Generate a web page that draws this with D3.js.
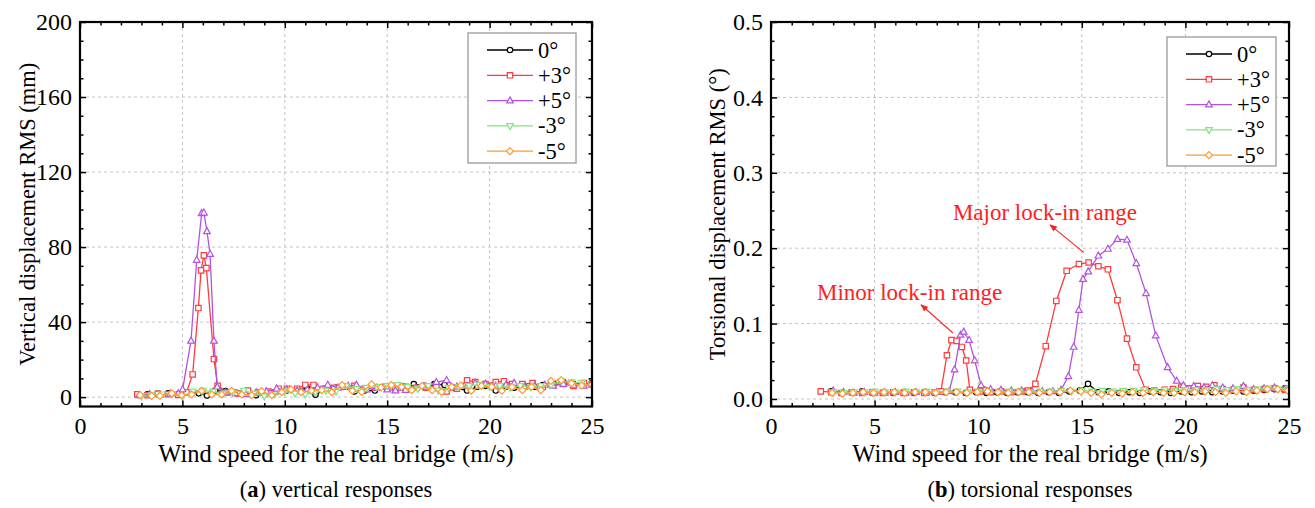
<!DOCTYPE html>
<html>
<head>
<meta charset="utf-8">
<script src="https://cdn.jsdelivr.net/npm/d3@7"></script>
<style>
  body { margin: 0; background: #ffffff; }
  svg { display: block; }
  svg text { font-family: "Liberation Serif", "Times New Roman", Times, serif; }
</style>
</head>
<body>
<svg id="chart" width="1315" height="508"></svg>
<script>
// ---- Series labels, colours ----
const seriesNames = ["0°", "+3°", "+5°", "-3°", "-5°"];
const seriesColors = ["#000000", "#ff3b3b", "#b352e0", "#84e384", "#ff9a33"];

// ---- (a) Vertical displacement RMS (mm) vs wind speed (m/s) ----
const vWind0 = [2.8, 3.3, 3.8, 4.3, 4.8, 5.3, 5.8, 6.2, 6.6, 7.1, 7.6, 8.1, 8.6, 9.1, 9.6, 10.1, 10.6, 11.1, 11.5, 12.0, 12.5, 13.0, 13.4, 13.9, 14.4, 14.9, 15.4, 15.8, 16.3, 16.8, 17.3, 17.8, 18.3, 18.9, 19.4, 19.8, 20.3, 20.8, 21.2, 21.7, 22.2, 22.6, 23.1, 23.6, 24.1, 24.6, 25.0];
const vRms0 = [1.2, 1.5, 1.8, 2.0, 1.5, 2.5, 2.0, 0.8, 3.5, 3.2, 2.5, 2.0, 1.0, 2.0, 3.0, 3.5, 4.0, 4.5, 1.2, 4.5, 5.0, 5.5, 3.0, 3.5, 3.5, 5.5, 5.0, 5.5, 7.0, 6.0, 7.0, 6.5, 5.0, 3.5, 5.5, 6.0, 3.5, 5.5, 5.0, 6.0, 5.5, 6.5, 7.5, 8.0, 7.0, 7.0, 7.5];

const vWindP3 = [2.8, 3.3, 3.8, 4.3, 4.8, 5.2, 5.5, 5.78, 5.91, 6.05, 6.17, 6.54, 6.72, 7.2, 7.7, 8.2, 8.7, 9.2, 9.7, 10.1, 10.6, 11.0, 11.4, 11.9, 12.4, 12.9, 13.4, 13.9, 14.4, 14.9, 15.4, 15.9, 16.4, 16.9, 17.4, 17.9, 18.4, 18.9, 19.3, 19.8, 20.3, 20.7, 21.1, 21.6, 22.1, 22.6, 23.1, 23.6, 24.1, 24.6, 25.0];
const vRmsP3 = [1.5, 1.0, 1.8, 1.5, 1.2, 2.5, 12.1, 47.5, 67.6, 75.6, 68.8, 20.3, 6.0, 2.5, 2.0, 3.5, 2.5, 3.0, 4.5, 4.5, 4.5, 6.5, 6.5, 4.5, 5.0, 5.5, 6.0, 4.5, 5.0, 5.5, 4.5, 5.5, 5.0, 5.0, 6.0, 3.0, 4.5, 9.0, 8.0, 7.0, 8.0, 8.5, 7.0, 7.0, 7.5, 5.5, 6.5, 7.0, 6.0, 7.5, 7.0];

const vWindP5 = [2.9, 3.4, 3.9, 4.4, 4.8, 5.01, 5.42, 5.70, 5.94, 6.05, 6.20, 6.35, 6.54, 6.70, 7.1, 7.6, 8.1, 8.6, 9.1, 9.6, 10.1, 10.6, 11.1, 11.6, 12.1, 12.6, 13.1, 13.5, 14.0, 14.5, 15.0, 15.4, 15.9, 16.4, 16.9, 17.4, 17.9, 18.4, 18.9, 19.3, 19.8, 20.3, 20.8, 21.2, 21.7, 22.2, 22.7, 23.1, 23.6, 24.1, 24.6, 25.0];
const vRmsP5 = [1.0, 1.5, 1.2, 1.8, 2.0, 4.1, 30.0, 73.1, 98.0, 98.3, 88.4, 76.3, 30.0, 5.5, 2.5, 2.0, 1.5, 2.5, 3.0, 4.5, 4.0, 3.5, 4.0, 5.0, 6.5, 5.0, 6.0, 6.5, 4.0, 5.0, 4.0, 3.5, 3.8, 5.0, 5.5, 8.0, 9.0, 5.5, 6.0, 7.5, 7.0, 6.0, 6.5, 7.5, 5.5, 6.0, 6.5, 6.0, 7.0, 6.5, 6.0, 6.5];

const vWindM3 = [3.0, 3.5, 4.0, 4.5, 5.0, 5.5, 6.0, 6.5, 7.0, 7.5, 8.0, 8.5, 9.0, 9.5, 10.0, 10.5, 11.0, 11.5, 12.0, 12.5, 13.0, 13.5, 14.0, 14.5, 15.0, 15.5, 16.0, 16.5, 17.0, 17.5, 18.0, 18.5, 19.0, 19.5, 20.0, 20.5, 21.0, 21.5, 22.0, 22.5, 23.0, 23.5, 24.0, 24.5, 25.0];
const vRmsM3 = [0.5, 1.0, 1.5, 1.5, 0.3, 3.0, 3.5, 3.0, 2.0, 2.5, 3.5, 2.0, 0.5, 1.5, 3.0, 2.0, 1.5, 2.5, 3.5, 3.0, 6.0, 4.5, 5.0, 5.5, 6.0, 6.5, 5.5, 4.5, 6.0, 3.5, 5.0, 5.5, 6.0, 6.5, 5.5, 6.0, 5.0, 6.0, 5.5, 6.0, 6.5, 8.5, 8.0, 7.5, 6.0];

const vWindM5 = [2.93, 3.5, 3.9, 4.48, 4.96, 5.45, 5.94, 6.43, 6.92, 7.4, 7.9, 8.38, 8.87, 9.36, 9.85, 10.3, 10.8, 11.3, 11.8, 12.3, 12.8, 13.3, 13.75, 14.24, 14.7, 15.2, 15.7, 16.2, 16.7, 17.2, 17.66, 18.15, 18.6, 19.1, 19.6, 20.1, 20.6, 21.1, 21.6, 22.05, 22.5, 23.0, 23.5, 24.0, 24.5, 25.0];
const vRmsM5 = [1.07, 0.7, 0.7, 2.0, 1.0, 1.4, 3.4, 1.4, 1.4, 3.4, 1.4, 1.0, 3.2, 1.0, 2.6, 4.1, 2.6, 3.4, 3.7, 2.6, 6.4, 3.4, 2.8, 6.8, 5.2, 6.4, 5.5, 3.7, 6.0, 3.7, 2.8, 5.5, 6.2, 3.4, 6.0, 5.5, 3.4, 5.5, 3.7, 5.5, 3.7, 8.7, 9.1, 7.3, 6.2, 6.8];

// ---- (b) Torsional displacement RMS (°) vs wind speed (m/s) ----
const tWind0 = [2.9, 3.4, 3.9, 4.4, 4.9, 5.4, 5.9, 6.4, 6.9, 7.4, 7.9, 8.4, 8.9, 9.4, 9.9, 10.4, 10.9, 11.4, 11.9, 12.4, 12.9, 13.4, 13.9, 14.4, 14.9, 15.3, 15.8, 16.3, 16.8, 17.3, 17.8, 18.3, 18.8, 19.3, 19.8, 20.3, 20.8, 21.3, 21.8, 22.3, 22.8, 23.3, 23.8, 24.3, 24.8];
const tRms0 = [0.010, 0.008, 0.009, 0.010, 0.008, 0.009, 0.008, 0.009, 0.008, 0.009, 0.008, 0.009, 0.009, 0.008, 0.009, 0.008, 0.009, 0.008, 0.009, 0.009, 0.008, 0.009, 0.008, 0.010, 0.011, 0.020, 0.009, 0.010, 0.008, 0.009, 0.008, 0.010, 0.009, 0.008, 0.010, 0.009, 0.010, 0.009, 0.010, 0.011, 0.010, 0.011, 0.012, 0.013, 0.014];

const tWindP3 = [2.4, 2.9, 3.4, 3.9, 4.4, 4.9, 5.4, 5.9, 6.4, 6.9, 7.4, 7.9, 8.2, 8.49, 8.71, 8.96, 9.21, 9.42, 9.6, 10.1, 10.6, 11.1, 11.6, 12.1, 12.4, 12.76, 13.26, 13.77, 14.27, 14.86, 15.33, 15.8, 16.26, 16.72, 17.18, 17.63, 18.08, 18.5, 19.0, 19.4, 19.8, 20.2, 20.6, 21.0, 21.4, 21.8, 22.3, 22.8, 23.3, 23.8, 24.3, 24.8];
const tRmsP3 = [0.010, 0.009, 0.008, 0.009, 0.008, 0.009, 0.008, 0.009, 0.008, 0.009, 0.008, 0.009, 0.010, 0.058, 0.078, 0.077, 0.069, 0.051, 0.012, 0.010, 0.009, 0.010, 0.009, 0.010, 0.011, 0.020, 0.070, 0.130, 0.170, 0.179, 0.181, 0.176, 0.172, 0.131, 0.080, 0.042, 0.012, 0.011, 0.012, 0.013, 0.015, 0.014, 0.017, 0.016, 0.018, 0.013, 0.012, 0.015, 0.012, 0.013, 0.014, 0.012];

const tWindP5 = [3.0, 3.5, 4.0, 4.5, 5.0, 5.5, 6.0, 6.5, 7.0, 7.5, 8.0, 8.6, 8.86, 9.15, 9.30, 9.56, 9.83, 10.14, 10.6, 11.1, 11.6, 12.1, 12.6, 13.1, 13.6, 14.0, 14.35, 14.61, 14.86, 15.06, 15.31, 15.8, 16.26, 16.72, 17.18, 17.63, 18.1, 18.57, 19.14, 19.58, 19.9, 20.4, 20.9, 21.3, 21.8, 22.3, 22.8, 23.3, 23.8, 24.3, 24.8];
const tRmsP5 = [0.011, 0.009, 0.008, 0.009, 0.008, 0.008, 0.009, 0.008, 0.009, 0.008, 0.009, 0.010, 0.039, 0.085, 0.089, 0.078, 0.051, 0.018, 0.013, 0.012, 0.011, 0.011, 0.010, 0.010, 0.010, 0.012, 0.030, 0.069, 0.118, 0.159, 0.169, 0.190, 0.199, 0.212, 0.211, 0.180, 0.140, 0.084, 0.042, 0.024, 0.018, 0.017, 0.015, 0.018, 0.015, 0.014, 0.017, 0.013, 0.014, 0.015, 0.013];

const tWindM3 = [3.0, 3.5, 4.0, 4.5, 5.0, 5.5, 6.0, 6.5, 7.0, 7.5, 8.0, 8.5, 9.0, 9.5, 10.0, 10.5, 11.0, 11.5, 12.0, 12.5, 13.0, 13.5, 14.0, 14.5, 15.0, 15.5, 16.0, 16.5, 17.0, 17.5, 18.0, 18.5, 19.0, 19.5, 20.0, 20.5, 21.0, 21.5, 22.0, 22.5, 23.0, 23.5, 24.0, 24.5, 25.0];
const tRmsM3 = [0.009, 0.008, 0.009, 0.009, 0.010, 0.009, 0.009, 0.010, 0.009, 0.010, 0.009, 0.010, 0.010, 0.009, 0.010, 0.010, 0.009, 0.010, 0.010, 0.009, 0.010, 0.010, 0.011, 0.010, 0.011, 0.010, 0.011, 0.010, 0.011, 0.011, 0.012, 0.011, 0.012, 0.011, 0.012, 0.012, 0.012, 0.013, 0.012, 0.013, 0.012, 0.013, 0.014, 0.013, 0.014];

const tWindM5 = [2.95, 3.45, 3.95, 4.45, 4.95, 5.45, 5.95, 6.45, 6.95, 7.45, 7.95, 8.45, 8.95, 9.45, 9.95, 10.45, 10.95, 11.45, 11.95, 12.45, 12.95, 13.45, 13.95, 14.45, 14.95, 15.45, 15.95, 16.45, 16.95, 17.45, 17.95, 18.45, 18.95, 19.45, 19.95, 20.45, 20.95, 21.45, 21.95, 22.45, 22.95, 23.45, 23.95, 24.45, 24.95];
const tRmsM5 = [0.008, 0.007, 0.008, 0.009, 0.008, 0.009, 0.009, 0.008, 0.009, 0.009, 0.008, 0.009, 0.009, 0.008, 0.009, 0.010, 0.009, 0.008, 0.009, 0.009, 0.008, 0.009, 0.009, 0.011, 0.010, 0.008, 0.006, 0.008, 0.007, 0.009, 0.008, 0.009, 0.008, 0.008, 0.009, 0.009, 0.010, 0.009, 0.008, 0.010, 0.009, 0.011, 0.013, 0.013, 0.011];

// ---- Axis ticks and labels ----
const xMajorTicks = [0, 5, 10, 15, 20, 25];
const vMajorTicks = [0, 40, 80, 120, 160, 200];
const tMajorTicks = [0.0, 0.1, 0.2, 0.3, 0.4, 0.5];
const xTitle = "Wind speed for the real bridge (m/s)";
const vTitle = "Vertical displacement RMS (mm)";
const tTitle = "Torsional displacement RMS (°)";

const svg = d3.select("#chart");
const FONT = "'Liberation Serif', 'Times New Roman', Times, serif";

// serif text helper
function serif(sel, size) {
  return sel.style("font-family", FONT).style("font-size", size + "px");
}

// open marker shapes: circle, square, triangle up, triangle down, diamond
function markerPath(kind) {
  const p = d3.path();
  if (kind === 0) { p.arc(0, 0, 2.7, 0, 2 * Math.PI); }
  else if (kind === 1) { p.rect(-2.7, -2.7, 5.4, 5.4); }
  else if (kind === 2) { p.moveTo(0, -3.7); p.lineTo(3.3, 2.3); p.lineTo(-3.3, 2.3); p.closePath(); }
  else if (kind === 3) { p.moveTo(0, 3.7); p.lineTo(3.3, -2.3); p.lineTo(-3.3, -2.3); p.closePath(); }
  else { p.moveTo(0, -3.5); p.lineTo(3.5, 0); p.lineTo(0, 3.5); p.lineTo(-3.5, 0); p.closePath(); }
  return p.toString();
}

function drawPanel(cfg) {
  const { left, right, top, bottom, yDomain, yMajor, yMinorStep, yFormat, series, yTitle, yTitleX, caption, captionLetter, legendBox, id } = cfg;
  const x = d3.scaleLinear().domain([0, 25]).range([left, right]);
  const y = d3.scaleLinear().domain(yDomain).range([bottom, top]);
  const g = svg.append("g").style("font-family", FONT);

  // dashed grid at major ticks
  const grid = g.append("g").attr("stroke", "#c4c4c4").attr("stroke-width", 1).attr("stroke-dasharray", "3,3");
  xMajorTicks.filter(t => t > 0 && t < 25).forEach(t => {
    grid.append("line").attr("x1", x(t)).attr("x2", x(t)).attr("y1", top).attr("y2", bottom);
  });
  yMajor.filter(t => t < yDomain[1]).forEach(t => {
    grid.append("line").attr("x1", left).attr("x2", right).attr("y1", y(t)).attr("y2", y(t));
  });

  // series: line plus open markers, clipped to the frame
  const clipId = "clip-" + id;
  g.append("clipPath").attr("id", clipId).append("rect")
    .attr("x", left).attr("y", top).attr("width", right - left).attr("height", bottom - top);
  const plot = g.append("g").attr("clip-path", `url(#${clipId})`);
  const line = d3.line().x(d => x(d[0])).y(d => y(d[1]));
  series.forEach((s, i) => {
    const pts = s.xs.map((v, k) => [v, s.ys[k]]);
    const sg = plot.append("g");
    sg.append("path").datum(pts).attr("d", line).attr("fill", "none")
      .attr("stroke", seriesColors[i]).attr("stroke-width", 1.3);
    sg.selectAll("path.m").data(pts).join("path").attr("class", "m")
      .attr("d", markerPath(i))
      .attr("transform", d => `translate(${x(d[0])},${y(d[1])})`)
      .attr("fill", "#ffffff").attr("stroke", seriesColors[i]).attr("stroke-width", 1.2);
  });

  // axes with inward ticks on all four sides
  const yMinor = d3.range(0, yDomain[1] + 1e-9, yMinorStep)
    .filter(v => !yMajor.some(m => Math.abs(m - v) < 1e-9));
  const xMinor = d3.range(0, 25.0001, 1).filter(v => v % 5 !== 0);
  const styleAxis = sel => {
    sel.attr("font-family", null).attr("font-size", null);
    sel.select(".domain").remove();
    sel.selectAll("line").attr("stroke", "#000").attr("stroke-width", 1.5);
    serif(sel.selectAll("text"), 24).attr("fill", "#000");
  };
  g.append("g").attr("transform", `translate(0,${bottom})`)
    .call(d3.axisBottom(x).tickValues(xMajorTicks).tickSize(-6).tickPadding(10).tickFormat(d3.format("d"))).call(styleAxis);
  g.append("g").attr("transform", `translate(0,${bottom})`)
    .call(d3.axisBottom(x).tickValues(xMinor).tickSize(-3.5).tickFormat("")).call(styleAxis);
  g.append("g").attr("transform", `translate(0,${top})`)
    .call(d3.axisTop(x).tickValues(xMajorTicks).tickSize(-6).tickFormat("")).call(styleAxis);
  g.append("g").attr("transform", `translate(0,${top})`)
    .call(d3.axisTop(x).tickValues(xMinor).tickSize(-3.5).tickFormat("")).call(styleAxis);
  g.append("g").attr("transform", `translate(${left},0)`)
    .call(d3.axisLeft(y).tickValues(yMajor).tickSize(-6).tickPadding(8).tickFormat(yFormat)).call(styleAxis);
  g.append("g").attr("transform", `translate(${left},0)`)
    .call(d3.axisLeft(y).tickValues(yMinor).tickSize(-3.5).tickFormat("")).call(styleAxis);
  g.append("g").attr("transform", `translate(${right},0)`)
    .call(d3.axisRight(y).tickValues(yMajor).tickSize(-6).tickFormat("")).call(styleAxis);
  g.append("g").attr("transform", `translate(${right},0)`)
    .call(d3.axisRight(y).tickValues(yMinor).tickSize(-3.5).tickFormat("")).call(styleAxis);

  // frame
  g.append("rect").attr("x", left).attr("y", top).attr("width", right - left).attr("height", bottom - top)
    .attr("fill", "none").attr("stroke", "#000").attr("stroke-width", 2.2);

  // axis titles and caption
  serif(g.append("text"), 24.5).attr("x", (left + right) / 2).attr("y", 462).attr("text-anchor", "middle").text(xTitle);
  serif(g.append("text"), 22.5).attr("transform", `translate(${yTitleX},${(top + bottom) / 2}) rotate(-90)`)
    .attr("text-anchor", "middle").attr("dominant-baseline", "central").text(yTitle);
  const cap = serif(g.append("text"), 22.5).attr("x", (left + right) / 2).attr("y", 497).attr("text-anchor", "middle");
  cap.append("tspan").text("(");
  cap.append("tspan").attr("font-weight", "bold").text(captionLetter);
  cap.append("tspan").text(") " + caption);

  // legend
  const lg = g.append("g");
  lg.append("rect").attr("x", legendBox.x).attr("y", legendBox.y).attr("width", legendBox.w).attr("height", legendBox.h)
    .attr("fill", "#ffffff").attr("stroke", "#9a9a9a").attr("stroke-width", 1.3);
  seriesNames.forEach((name, i) => {
    const cy = legendBox.y + 17 + i * 25.3;
    const x0 = legendBox.x + 19, x1 = legendBox.x + 65;
    lg.append("line").attr("x1", x0).attr("x2", x1).attr("y1", cy).attr("y2", cy)
      .attr("stroke", seriesColors[i]).attr("stroke-width", 1.3);
    lg.append("path").attr("d", markerPath(i)).attr("transform", `translate(${(x0 + x1) / 2},${cy})`)
      .attr("fill", "#ffffff").attr("stroke", seriesColors[i]).attr("stroke-width", 1.2);
    serif(lg.append("text"), 22.5).attr("x", x1 + 5).attr("y", cy).attr("dominant-baseline", "central").text(name);
  });
  return { x, y, g };
}

const panelA = drawPanel({
  id: "a", left: 80, right: 592, top: 22, bottom: 406.5,
  yDomain: [-5, 200], yMajor: vMajorTicks, yMinorStep: 10, yFormat: d3.format("d"),
  series: [
    { xs: vWind0, ys: vRms0 }, { xs: vWindP3, ys: vRmsP3 }, { xs: vWindP5, ys: vRmsP5 },
    { xs: vWindM3, ys: vRmsM3 }, { xs: vWindM5, ys: vRmsM5 }
  ],
  yTitle: vTitle, yTitleX: 27, captionLetter: "a", caption: "vertical responses",
  legendBox: { x: 468, y: 33, w: 108, h: 130 }
});

const panelB = drawPanel({
  id: "b", left: 771, right: 1289, top: 22, bottom: 406.5,
  yDomain: [-0.01, 0.5], yMajor: tMajorTicks, yMinorStep: 0.025, yFormat: d3.format(".1f"),
  series: [
    { xs: tWind0, ys: tRms0 }, { xs: tWindP3, ys: tRmsP3 }, { xs: tWindP5, ys: tRmsP5 },
    { xs: tWindM3, ys: tRmsM3 }, { xs: tWindM5, ys: tRmsM5 }
  ],
  yTitle: tTitle, yTitleX: 717, captionLetter: "b", caption: "torsional responses",
  legendBox: { x: 1167, y: 37, w: 109, h: 129 }
});

// lock-in range annotations (positions in data units of panel b)
const notes = [
  { text: "Major lock-in range", tx: 8.78, ty: 0.237, from: [15.1, 0.194], to: [13.47, 0.231] },
  { text: "Minor lock-in range", tx: 2.22, ty: 0.131, from: [8.78, 0.0875], to: [7.24, 0.125] }
];
const red = "#ff2020";
const defs = svg.append("defs");
defs.append("marker").attr("id", "arrowhead").attr("viewBox", "0 0 10 10").attr("refX", 9).attr("refY", 5)
  .attr("markerWidth", 7).attr("markerHeight", 7).attr("orient", "auto")
  .append("path").attr("d", "M0,1 L10,5 L0,9 Z").attr("fill", red);
notes.forEach(n => {
  const bx = panelB.x, by = panelB.y;
  panelB.g.append("line").attr("x1", bx(n.from[0])).attr("y1", by(n.from[1]))
    .attr("x2", bx(n.to[0])).attr("y2", by(n.to[1]))
    .attr("stroke", red).attr("stroke-width", 1.1).attr("marker-end", "url(#arrowhead)");
  serif(panelB.g.append("text"), 23).attr("x", bx(n.tx)).attr("y", by(n.ty))
    .attr("fill", red).text(n.text);
});
</script>
</body>
</html>
